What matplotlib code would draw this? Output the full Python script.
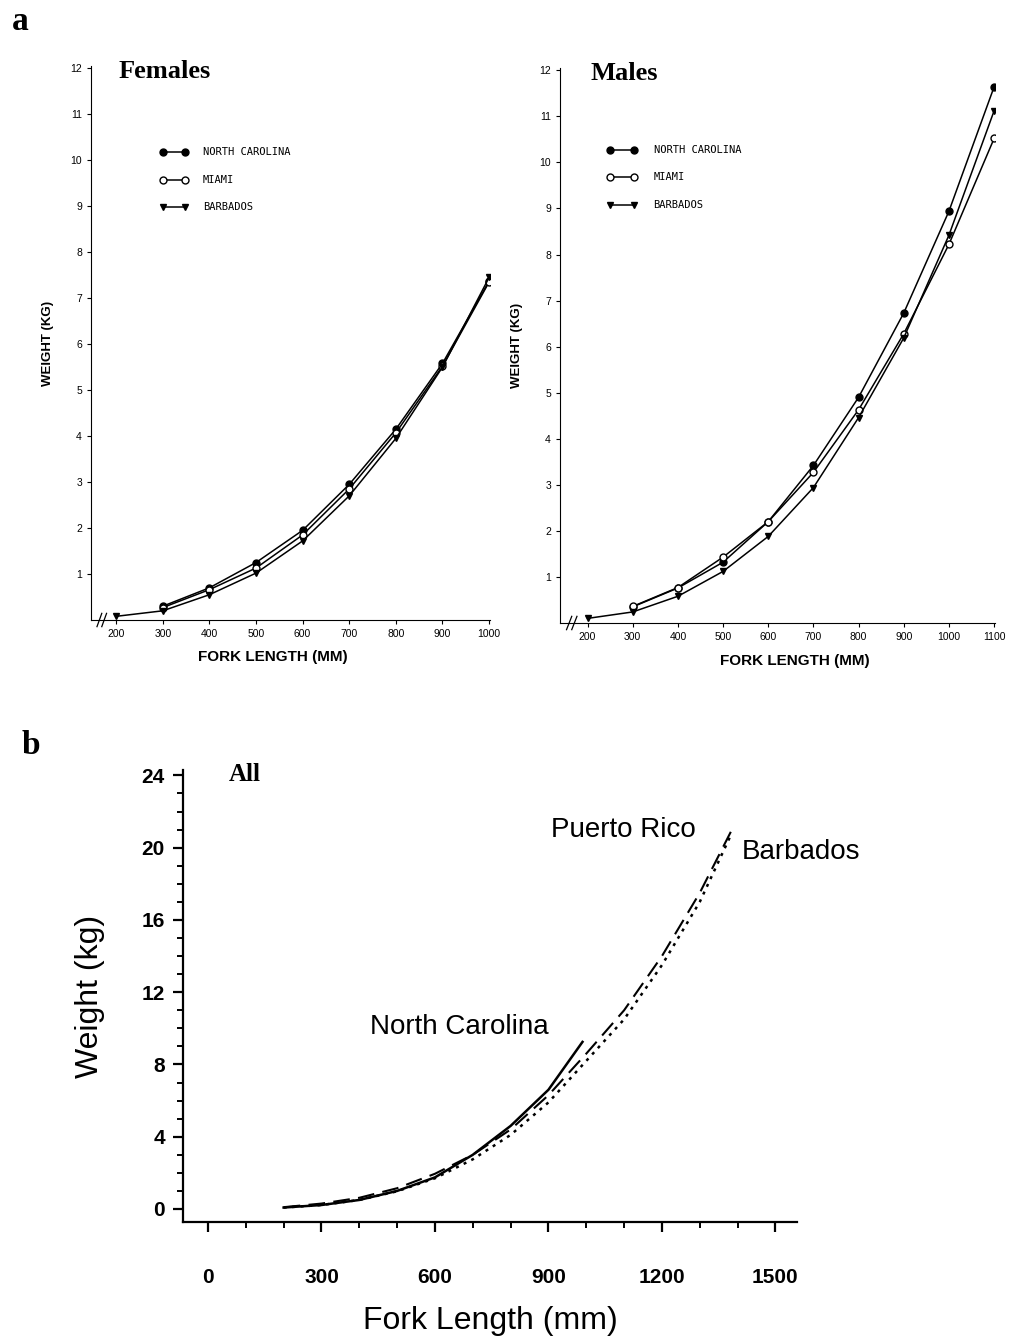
import numpy as np
import matplotlib.pyplot as plt

# ---- panel a: Females ----
fem_nc_x = [300, 400, 500, 600, 700, 800, 900, 1000]
fem_nc_y = [0.30, 0.70, 1.25, 1.95, 2.95, 4.15, 5.58, 7.37]
fem_mi_x = [300, 400, 500, 600, 700, 800, 900, 1000]
fem_mi_y = [0.27, 0.66, 1.13, 1.85, 2.85, 4.07, 5.52, 7.35]
fem_ba_x = [200, 300, 400, 500, 600, 700, 800, 900, 1000]
fem_ba_y = [0.08, 0.20, 0.55, 1.02, 1.72, 2.70, 3.95, 5.50, 7.45]

# ---- panel a: Males ----
mal_nc_x = [300, 400, 500, 600, 700, 800, 900, 1000, 1100]
mal_nc_y = [0.35, 0.76, 1.32, 2.20, 3.42, 4.90, 6.73, 8.94, 11.64]
mal_mi_x = [300, 400, 500, 600, 700, 800, 900, 1000, 1100]
mal_mi_y = [0.36, 0.77, 1.43, 2.20, 3.27, 4.63, 6.28, 8.22, 10.52]
mal_ba_x = [200, 300, 400, 500, 600, 700, 800, 900, 1000, 1100]
mal_ba_y = [0.10, 0.24, 0.58, 1.12, 1.88, 2.94, 4.46, 6.19, 8.42, 11.12]

# ---- panel b: All ----
all_nc_x = [200, 300, 400, 500, 600, 700, 800, 900, 990]
all_nc_y = [0.08, 0.22, 0.50, 1.00, 1.75, 3.00, 4.60, 6.60, 9.25]
all_pr_x = [200, 300, 400, 500, 600, 700, 800, 900, 1000, 1100, 1200, 1300, 1385]
all_pr_y = [0.10, 0.30, 0.62, 1.15, 1.95, 3.00, 4.40, 6.30, 8.60, 11.0, 14.0, 17.5, 21.0]
all_ba_x = [200, 300, 400, 500, 600, 700, 800, 900, 1000, 1100, 1200, 1300, 1380]
all_ba_y = [0.08, 0.22, 0.50, 0.98, 1.70, 2.75, 4.10, 5.90, 8.20, 10.5, 13.5, 17.0, 20.6]

legend_names = ["NORTH CAROLINA", "MIAMI", "BARBADOS"]

W, H = 1011, 1341
fig = plt.figure(figsize=(W / 100, H / 100), dpi=100)


def box(l, t, r, b):
    return [l / W, 1 - b / H, (r - l) / W, (b - t) / H]


mono = "DejaVu Sans Mono"
cond = ["Liberation Sans Narrow", "Liberation Sans", "DejaVu Sans"]
serif = ["Liberation Serif", "DejaVu Serif"]


def panel_a(rect, xlim, xticks, series, title, leg_x, leg_y0, xlab_x):
    ax = fig.add_axes(rect)
    for xs, ys, mk, fc in series:
        ax.plot(xs, ys, color="black", lw=1.1, marker=mk, ms=5,
                mfc=fc, mec="black", mew=1.0)
    ax.set_xlim(*xlim)
    ax.set_ylim(0, 12.05)
    ax.set_yticks(range(1, 13))
    ax.set_xticks(xticks)
    ax.spines["top"].set_visible(False)
    ax.spines["right"].set_visible(False)
    ax.tick_params(direction="out", length=3, width=0.8, labelsize=7.5)
    for lab in ax.get_xticklabels() + ax.get_yticklabels():
        lab.set_family(cond)
    ax.set_xlabel("FORK LENGTH (MM)", family=cond, fontsize=11, fontweight="bold",
                  labelpad=6)
    ax.xaxis.set_label_coords(xlab_x, -0.055)
    ax.set_ylabel("WEIGHT (KG)", family=cond, fontsize=9.5, fontweight="bold",
                  labelpad=12)
    ax.text(0.07, 0.99, title, transform=ax.transAxes, family=serif,
            fontsize=19, fontweight="bold", va="center", ha="left")
    # axis break
    for dx in (0, 0.012):
        ax.plot([0.015 + dx, 0.027 + dx], [-0.012, 0.012], transform=ax.transAxes,
                color="black", lw=0.9, clip_on=False)
    # legend
    for i, (name, (xs, ys, mk, fc)) in enumerate(zip(legend_names, series)):
        yy = leg_y0 - i * 0.05
        ax.plot([leg_x, leg_x + 0.055], [yy, yy], transform=ax.transAxes,
                color="black", lw=1.1, marker=mk, ms=5, mfc=fc, mec="black")
        ax.text(leg_x + 0.10, yy, name, transform=ax.transAxes, family=mono,
                fontsize=7.5, va="center", ha="left")
    return ax


panel_a(box(91, 66, 490, 620), (146, 1002), range(200, 1001, 100),
        [(fem_nc_x, fem_nc_y, "o", "black"),
         (fem_mi_x, fem_mi_y, "o", "white"),
         (fem_ba_x, fem_ba_y, "v", "black")],
        "Females", 0.18, 0.845, 0.455)

panel_a(box(560, 68, 995, 623), (139, 1102), range(200, 1101, 100),
        [(mal_nc_x, mal_nc_y, "o", "black"),
         (mal_mi_x, mal_mi_y, "o", "white"),
         (mal_ba_x, mal_ba_y, "v", "black")],
        "Males", 0.115, 0.853, 0.54)

# ---- panel b ----
axb = fig.add_axes(box(183, 770, 797, 1222))
axb.plot(all_nc_x, all_nc_y, color="black", lw=1.8, ls="-")
axb.plot(all_pr_x, all_pr_y, color="black", lw=1.5, ls=(0, (8, 4)))
axb.plot(all_ba_x, all_ba_y, color="black", lw=1.8, ls=(0, (1.2, 2.2)))
axb.set_xlim(-66, 1557)
axb.set_ylim(-0.72, 24.3)
axb.set_xticks(range(0, 1501, 300))
axb.set_xticks(range(0, 1501, 100), minor=True)
axb.set_yticks(range(0, 25, 4))
axb.set_yticks(range(0, 25, 1), minor=True)
axb.spines["top"].set_visible(False)
axb.spines["right"].set_visible(False)
axb.spines["left"].set_linewidth(1.6)
axb.spines["bottom"].set_linewidth(1.6)
axb.tick_params(which="major", direction="out", length=7, width=1.6,
                labelsize=15, pad=6)
axb.tick_params(axis="x", which="major", pad=26)
axb.tick_params(which="minor", direction="out", length=4, width=1.4)
for lab in axb.get_xticklabels() + axb.get_yticklabels():
    lab.set_family(cond)
    lab.set_fontweight("bold")
sans = ["Liberation Sans", "DejaVu Sans"]
axb.set_xlabel("Fork Length (mm)", family=sans, fontsize=23, labelpad=14)
axb.set_ylabel("Weight (kg)", family=sans, fontsize=23, labelpad=26)
axb.text(0.075, 0.99, "All", transform=axb.transAxes, family=serif,
         fontsize=18, fontweight="bold", va="center")
axb.text(1290, 21.0, "Puerto Rico", family=sans, fontsize=20, ha="right", va="center")
axb.text(1411, 19.75, "Barbados", family=sans, fontsize=20, ha="left", va="center")
axb.text(901, 10.07, "North Carolina", family=sans, fontsize=20, ha="right", va="center")

fig.text(12 / W, 1 - 22 / H, "a", family=serif, fontsize=24, fontweight="bold",
         va="center", ha="left")
fig.text(22 / W, 1 - 745 / H, "b", family=serif, fontsize=24, fontweight="bold",
         va="center", ha="left")

fig.savefig("out.png", dpi=100)
